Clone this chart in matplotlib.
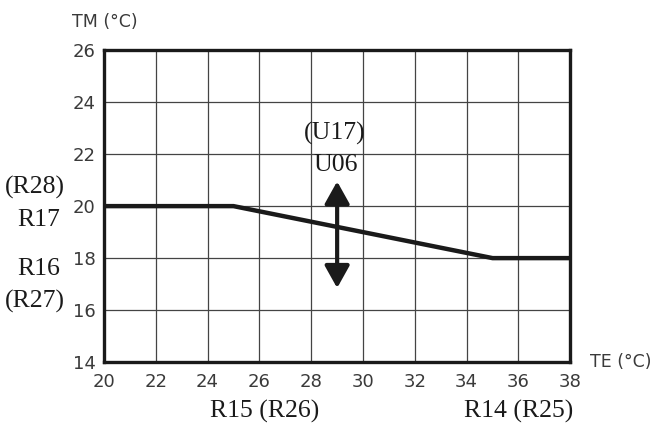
import matplotlib.pyplot as plt

# curve data
te = [20, 25, 35, 38]
tm = [20, 20, 18, 18]
x_ticks = [20, 22, 24, 26, 28, 30, 32, 34, 36, 38]
y_ticks = [14, 16, 18, 20, 22, 24, 26]
arrow_x = 29
arrow_y = [16.85, 20.95]

fig = plt.figure(figsize=(6.54, 4.25), dpi=100)
ax = fig.add_axes([0.159, 0.148, 0.713, 0.734])

ax.plot(te, tm, color='#1a1a1a', lw=3.2, solid_capstyle='butt', zorder=3)
ax.annotate('', xy=(arrow_x, arrow_y[1]), xytext=(arrow_x, arrow_y[0]),
            arrowprops=dict(arrowstyle='<|-|>,head_length=0.52,head_width=0.29',
                            color='#1a1a1a', lw=3,
                            mutation_scale=26, shrinkA=0, shrinkB=0), zorder=4)

ax.set_xlim(20, 38)
ax.set_ylim(14, 26)
ax.set_xticks(x_ticks)
ax.set_yticks(y_ticks)
ax.grid(True, color='#444444', lw=0.9)
ax.tick_params(length=0, labelsize=13, labelcolor='#3a3a3a', pad=8)
ax.tick_params(axis='y', pad=6)
for s in ax.spines.values():
    s.set_linewidth(2.4)
    s.set_color('#1a1a1a')

sans = dict(fontsize=12.5, color='#3a3a3a')
fig.text(0.11, 0.948, 'TM (°C)', ha='left', va='center', **sans)
fig.text(0.902, 0.149, 'TE (°C)', ha='left', va='center', **sans)

serif = dict(family='Liberation Serif', fontsize=18.5, color='#1a1a1a')
ax.text(-0.148, 0.56, '(R28)', transform=ax.transAxes, ha='center', va='center', **serif)
ax.text(-0.141, 0.455, 'R17', transform=ax.transAxes, ha='center', va='center', **serif)
ax.text(-0.141, 0.30, 'R16', transform=ax.transAxes, ha='center', va='center', **serif)
ax.text(-0.148, 0.195, '(R27)', transform=ax.transAxes, ha='center', va='center', **serif)
ax.text(28.9, 22.78, '(U17)', ha='center', va='center', **serif)
ax.text(28.95, 21.6, 'U06', ha='center', va='center', **serif)
ax.text(26.2, -0.158, 'R15 (R26)', transform=ax.get_xaxis_transform(), ha='center', va='center', **serif)
ax.text(36.0, -0.158, 'R14 (R25)', transform=ax.get_xaxis_transform(), ha='center', va='center', **serif)

fig.savefig('out.png', dpi=100)
